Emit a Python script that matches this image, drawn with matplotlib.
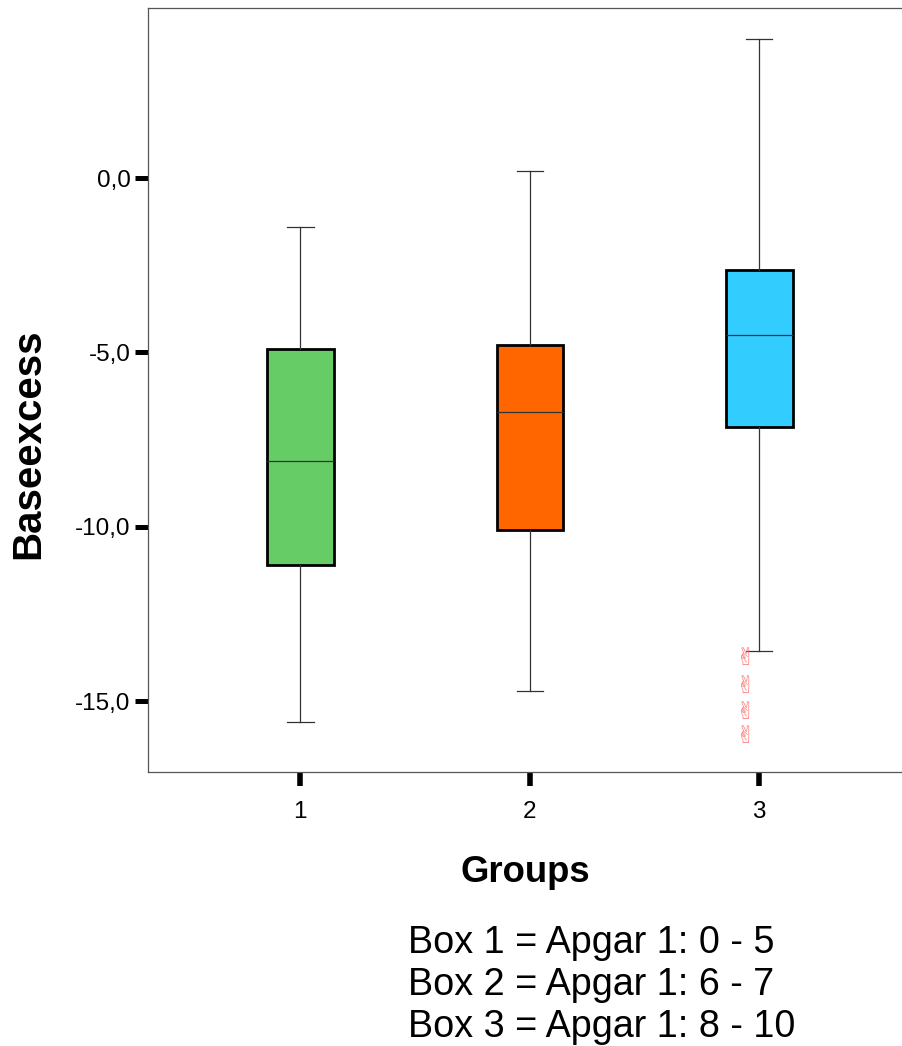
import numpy as np
import matplotlib
matplotlib.use('Agg')
from matplotlib import pyplot as plt

# box statistics
groups = ['1', '2', '3']
q1 = [-11.1, -10.1, -7.15]
med = [-8.1, -6.7, -4.5]
q3 = [-4.9, -4.8, -2.65]
whislo = [-15.6, -14.7, -13.55]
whishi = [-1.4, 0.2, 4.0]
box_colors = ['#66CC66', '#FF6600', '#33CCFF']
outliers_3 = [-13.75, -14.55, -15.3, -16.0]

y_ticks = [0, -5, -10, -15]
y_tick_labels = ['0,0', '-5,0', '-10,0', '-15,0']
legend_lines = ['Box 1 = Apgar 1: 0 - 5', 'Box 2 = Apgar 1: 6 - 7', 'Box 3 = Apgar 1: 8 - 10']

plt.rcParams['font.family'] = ['Liberation Sans', 'DejaVu Sans']

fig = plt.figure(figsize=(9.02, 10.46), dpi=100)
ax = fig.add_axes([148/902, 1 - 772/1046, 1 - 148/902 + 0.002, (772 - 8)/1046])

stats = []
for i in range(3):
    stats.append({'label': groups[i], 'q1': q1[i], 'med': med[i], 'q3': q3[i],
                  'whislo': whislo[i], 'whishi': whishi[i], 'fliers': []})

bp = ax.bxp(stats, positions=[1, 2, 3], widths=0.29, patch_artist=True, showfliers=False,
            boxprops=dict(linewidth=2, edgecolor='black'),
            medianprops=dict(color='#333333', linewidth=0.9),
            whiskerprops=dict(color='#333333', linewidth=0.9),
            capprops=dict(color='#333333', linewidth=0.9),
            capwidths=0.115)
for patch, c in zip(bp['boxes'], box_colors):
    patch.set_facecolor(c)

# outliers drawn as the hand glyph SPSS uses
for v in outliers_3:
    ax.text(2.94, v, '\u270C', family=['DejaVu Sans'], fontsize=17, color='#FF7777',
            ha='center', va='center')

ax.set_xlim(0.336, 3.63)
ax.set_ylim(-17.03, 4.875)
ax.set_yticks(y_ticks)
ax.set_yticklabels(y_tick_labels)
ax.set_xticks([1, 2, 3])
ax.set_xticklabels(groups)
ax.tick_params(axis='y', length=9.5, width=3.6, pad=3, labelsize=17.5, color='black')
ax.tick_params(axis='x', length=10, width=4, pad=11, labelsize=17.5, color='black')

for s in ax.spines.values():
    s.set_color('#555555')
    s.set_linewidth(0.9)

fig.text(28/902, 1 - 444/1046, 'Baseexcess', rotation=90, fontsize=29, fontweight='bold',
         ha='center', va='center')
fig.text(525/902, 1 - 873/1046, 'Groups', fontsize=26.3, fontweight='bold',
         ha='center', va='center')
for k, line in enumerate(legend_lines):
    fig.text(408/902, 1 - (943 + 42*k)/1046, line, fontsize=27.2, ha='left', va='center')

fig.savefig('out.png', dpi=100)
